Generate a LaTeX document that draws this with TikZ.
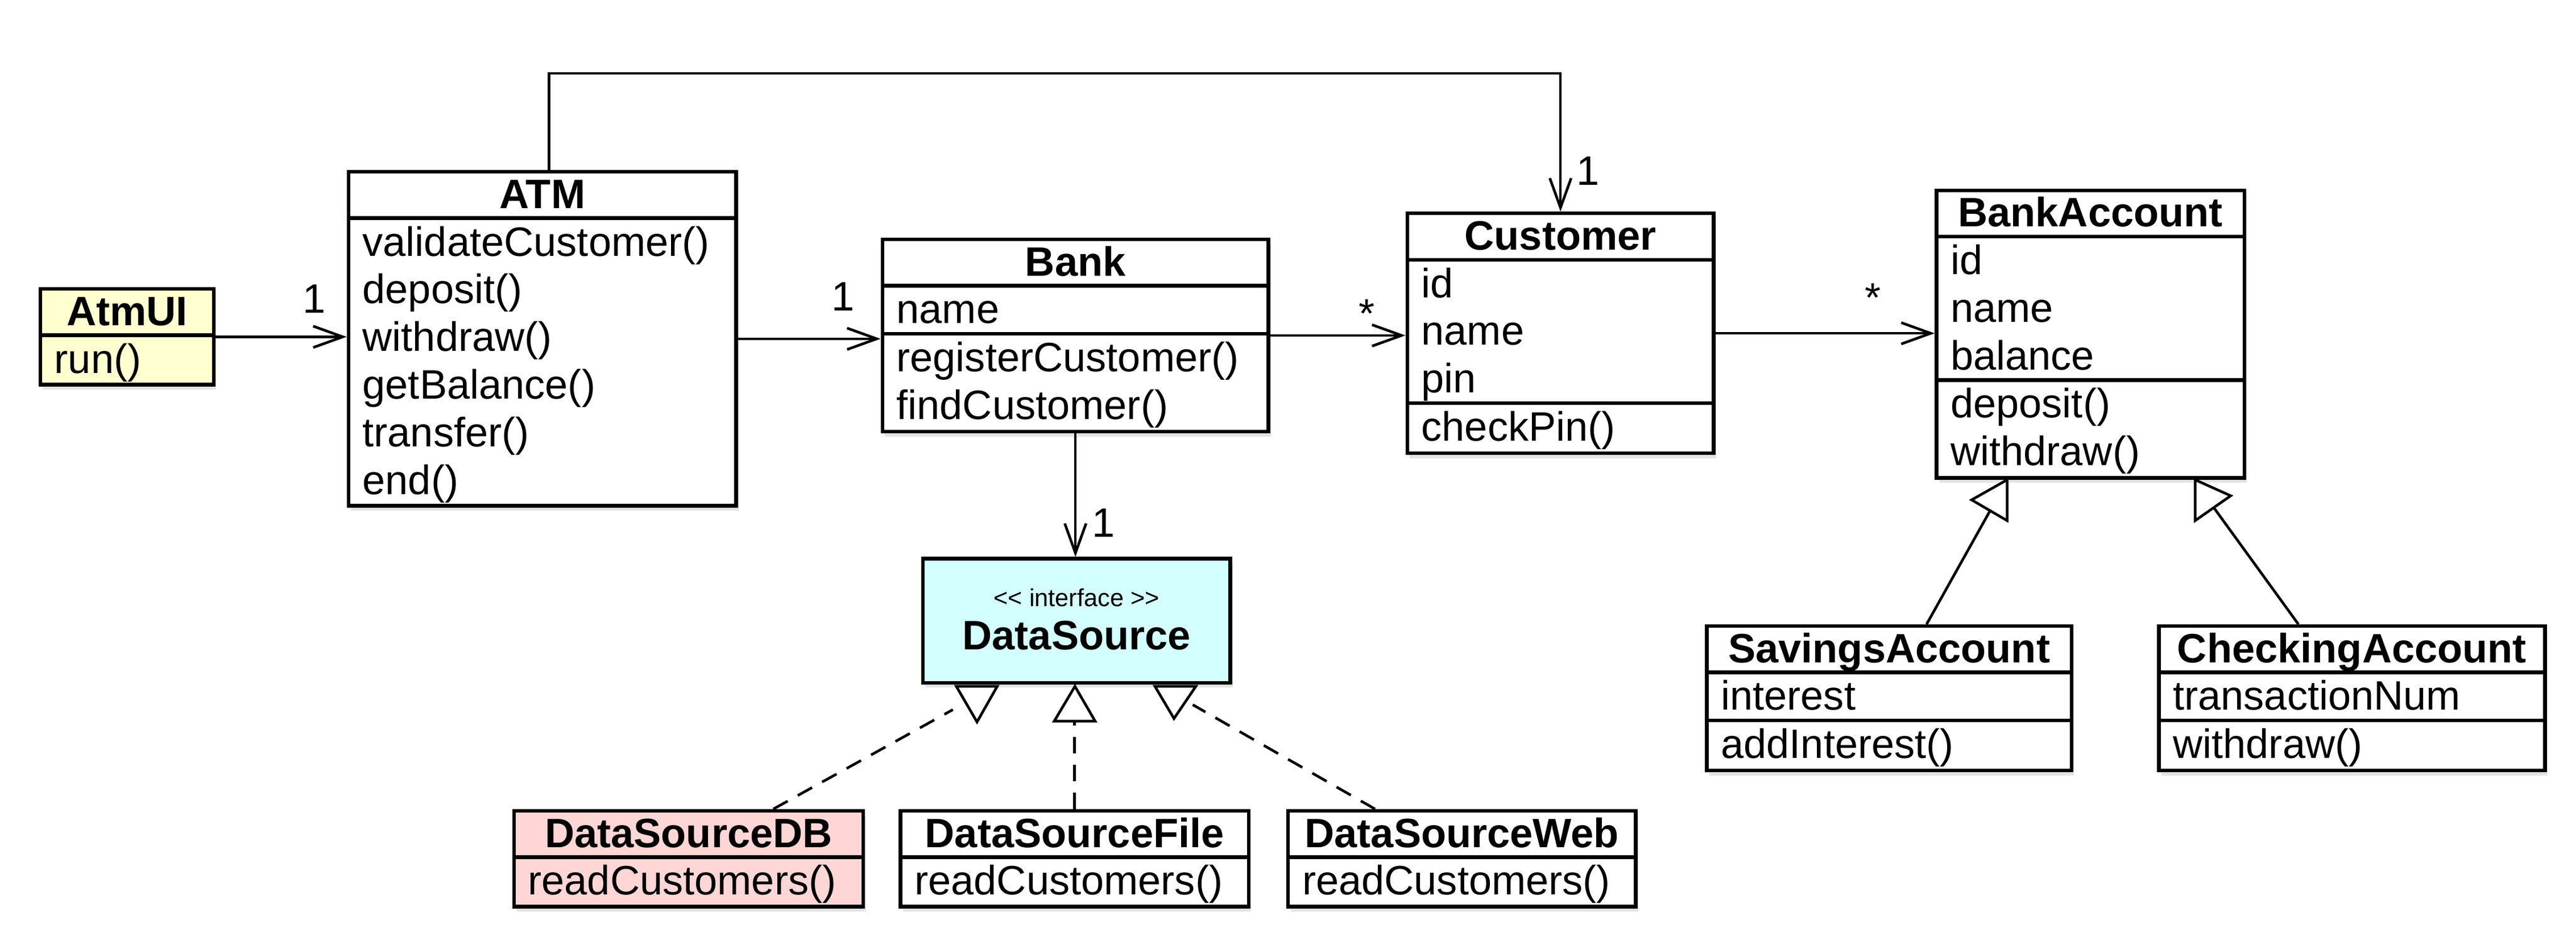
\documentclass[tikz,border=0pt]{standalone}
\usepackage{fontspec}
\setmainfont{Liberation Sans}
\usetikzlibrary{arrows.meta,shadows,calc}

\definecolor{uiyellow}{RGB}{255,255,208}
\definecolor{ifcyan}{RGB}{212,255,255}
\definecolor{dbpink}{RGB}{255,214,214}

\tikzset{
  classbox/.style={draw=black, line width=2.2pt, fill=white, inner sep=0pt,
    drop shadow={opacity=0.22, shadow xshift=1.5pt, shadow yshift=-3pt}},
  divline/.style={line width=2.2pt},
  titletext/.style={inner sep=0pt, font=\fontsize{25}{29}\selectfont\bfseries},
  linetext/.style={inner sep=0pt, font=\fontsize{25}{29}\selectfont},
  multtext/.style={inner sep=0pt, font=\fontsize{25}{29}\selectfont, anchor=base},
  assoc/.style={line width=1.6pt, -{Straight Barb[length=18pt,width=13pt]}},
  realize/.style={line width=1.6pt, dash pattern=on 10pt off 7pt},
  generalize/.style={line width=1.6pt},
  hollowtri/.style={draw=black, fill=white, line width=1.6pt, line join=miter},
}

% #1 extra style, #2 id, #3 north west position, #4 width, #5 title,
% #6 n1, #7 lines1, #8 n2, #9 lines2
\newcommand\umlclass[9][]{%
  \pgfmathsetmacro\umlH{29.3+29*#6+((#8>0)?(29*#8+0.7):0)}%
  \node[classbox,#1,minimum width=#4pt,minimum height=\umlH pt,anchor=north west] (#2) at (#3) {};
  \draw[divline] ([yshift=-29.3pt]#2.north west) -- ([yshift=-29.3pt]#2.north east);
  \node[titletext,anchor=base] (#2-t) at ([yshift=-23.3pt]#2.north) {#5};
  \foreach \s [count=\i] in {#7} {
    \pgfmathsetmacro\umlyy{-(29.3+23+29*(\i-1))}
    \node[linetext,anchor=base west] (#2-a\i) at ([xshift=9.5pt,yshift=\umlyy pt]#2.north west) {\s};
  }
  \ifnum#8>0\relax
    \pgfmathsetmacro\umlyd{-(29.3+29*#6+0.3)}
    \draw[divline] ([yshift=\umlyd pt]#2.north west) -- ([yshift=\umlyd pt]#2.north east);
    \foreach \s [count=\i] in {#9} {
      \pgfmathsetmacro\umlyy{\umlyd-23-29*(\i-1)}
      \node[linetext,anchor=base west] (#2-m\i) at ([xshift=9.5pt,yshift=\umlyy pt]#2.north west) {\s};
    }
  \fi
}

\begin{document}
\begin{tikzpicture}[x=1pt,y=-1pt]
\fill[white] (0,0) rectangle (1568,577.7);
\useasboundingbox (0,0) rectangle (1568,577.7);

% classes
\umlclass[fill=uiyellow]{atmui}{23.5,174.8}{105.5}{AtmUI}{1}{run()}{0}{}
\umlclass{atm}{211,103.5}{236}{ATM}{6}{validateCustomer(),deposit(),withdraw(),getBalance(),transfer(),end()}{0}{}
\umlclass{bank}{536,144.6}{235}{Bank}{1}{name}{2}{registerCustomer(),findCustomer()}
\umlclass{cust}{855.5,128.8}{186.5}{Customer}{3}{id,name,pin}{1}{checkPin()}
\umlclass{bacc}{1177.6,114.8}{187.4}{BankAccount}{3}{id,name,balance}{2}{deposit(),withdraw()}
\umlclass{sav}{1037.8,380}{222}{SavingsAccount}{1}{interest}{1}{addInterest()}
\umlclass{chk}{1313,380}{235}{CheckingAccount}{1}{transactionNum}{1}{withdraw()}
\umlclass[fill=dbpink]{dsdb}{311.7,492.5}{212.7}{DataSourceDB}{1}{readCustomers()}{0}{}
\umlclass{dsfile}{547,492.5}{212}{DataSourceFile}{1}{readCustomers()}{0}{}
\umlclass{dsweb}{783,492.5}{211.5}{DataSourceWeb}{1}{readCustomers()}{0}{}

% interface
\node[classbox, fill=ifcyan, minimum width=187pt, minimum height=75.5pt, anchor=north west] (ds) at (560.7,339) {};
\node[inner sep=0pt, anchor=base, font=\fontsize{15}{18}\selectfont] (ds-st) at ([yshift=-30.3pt]ds.north) {{<}{<} interface {>}{>}};
\node[titletext, anchor=base] (ds-t) at ([yshift=-56.6pt]ds.north) {DataSource};

% associations
\draw[assoc] (atmui.east) -- (atmui.east -| atm.west);
\draw[assoc] (atm.east) -- (atm.east -| bank.west);
\draw[assoc] (bank.east) -- (bank.east -| cust.west);
\draw[assoc] (cust.east) -- (cust.east -| bacc.west);
\draw[assoc] (bank.south) -- (bank.south |- ds.north);
\coordinate (topbend) at (0,44.7);
\draw[assoc] ([xshift=4pt]atm.north) -- ([xshift=4pt]atm.north |- topbend) -- (topbend -| cust.north) -- (cust.north);

% multiplicities
\node[multtext] (m1) at (191.4,190.4) {1};
\node[multtext] (m2) at (513,189.2) {1};
\node[multtext] (m3) at (832,199.7) {*};
\node[multtext] (m4) at (1140,189.7) {*};
\node[multtext] (m5) at (966.7,112.5) {1};
\node[multtext] (m6) at (671.8,327) {1};

% realizations
\coordinate (dsL) at (580,432);
\coordinate (dsM) at (654,439);
\coordinate (dsR) at (726,429);
\draw[realize] ([xshift=159pt]dsdb.north west) -- (dsL);
\draw[realize] (dsfile.north) -- (dsfile.north |- dsM);
\draw[realize] ([xshift=54pt]dsweb.north west) -- (dsR);
\draw[hollowtri] (582.1,417.8) -- (607,417.8) -- (594.7,439.5) -- cycle;
\draw[hollowtri] (654.3,417.8) -- (666.6,439) -- (641.7,439) -- cycle;
\draw[hollowtri] (703,417.8) -- (727.9,417.8) -- (714.6,437.4) -- cycle;

% generalizations
\coordinate (gL) at (1211,311.5);
\coordinate (gR) at (1347.5,309);
\draw[generalize] ([xshift=134.9pt]sav.north west) -- (gL);
\draw[generalize] ([xshift=86pt]chk.north west) -- (gR);
\draw[hollowtri] (1200.1,304.3) -- (1221.7,292.1) -- (1221.7,316.9) -- cycle;
\draw[hollowtri] (1336.2,292.1) -- (1336.2,316.9) -- (1357.8,301.8) -- cycle;
\end{tikzpicture}
\end{document}
